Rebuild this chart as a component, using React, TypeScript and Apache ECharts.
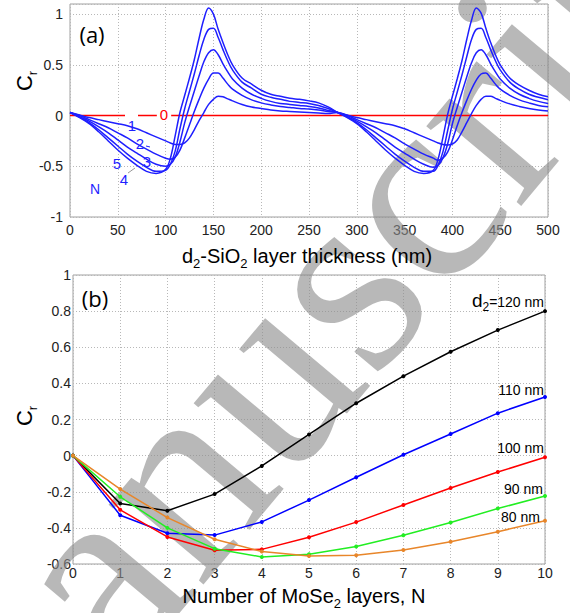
import React, { useEffect, useRef } from 'react';
import * as echarts from 'echarts';

// ---------- Panel (a): contrast Cr vs SiO2 thickness ----------
const thicknessNm = [0,10,20,30,40,50,60,70,80,90,100,105,110,115,120,125,130,135,140,145,150,155,160,165,170,180,190,200,210,220,230,240,250,260,270,280,290,300,310,320,330,340,350,360,370,380,385,390,395,400,405,410,415,420,425,430,435,440,445,450,460,470,480,490,500];

const crN1 = [0.03,0.005,-0.02,-0.04,-0.06,-0.08,-0.10,-0.13,-0.17,-0.21,-0.25,-0.27,-0.285,-0.285,-0.27,-0.22,-0.14,-0.05,0.03,0.11,0.16,0.19,0.185,0.165,0.145,0.11,0.085,0.07,0.055,0.045,0.04,0.035,0.03,0.025,0.02,
  0.03,0.005,-0.02,-0.04,-0.06,-0.08,-0.10,-0.13,-0.17,-0.21,-0.25,-0.27,-0.285,-0.29,-0.28,-0.24,-0.16,-0.07,0.02,0.10,0.16,0.19,0.19,0.17,0.15,0.115,0.09,0.07,0.055,0.044];
const crN2 = [0.03,0.0,-0.04,-0.08,-0.12,-0.17,-0.22,-0.28,-0.33,-0.38,-0.42,-0.43,-0.41,-0.34,-0.22,-0.09,0.04,0.16,0.27,0.36,0.42,0.42,0.37,0.31,0.26,0.20,0.155,0.125,0.105,0.09,0.08,0.07,0.065,0.055,0.04,
  0.03,0.0,-0.04,-0.08,-0.12,-0.17,-0.22,-0.28,-0.33,-0.38,-0.42,-0.44,-0.42,-0.36,-0.24,-0.10,0.03,0.15,0.26,0.35,0.41,0.42,0.37,0.31,0.26,0.20,0.155,0.125,0.10,0.087];
const crN3 = [0.03,-0.01,-0.055,-0.11,-0.17,-0.24,-0.31,-0.37,-0.43,-0.48,-0.50,-0.48,-0.41,-0.26,-0.07,0.09,0.24,0.39,0.53,0.62,0.65,0.60,0.51,0.43,0.36,0.27,0.21,0.17,0.14,0.12,0.11,0.10,0.09,0.075,0.05,
  0.03,-0.01,-0.055,-0.11,-0.17,-0.24,-0.31,-0.37,-0.43,-0.48,-0.51,-0.49,-0.42,-0.28,-0.08,0.08,0.23,0.38,0.52,0.62,0.65,0.60,0.51,0.43,0.36,0.27,0.21,0.17,0.14,0.12];
const crN4 = [0.03,-0.015,-0.07,-0.14,-0.22,-0.30,-0.38,-0.45,-0.51,-0.55,-0.54,-0.48,-0.35,-0.13,0.07,0.24,0.41,0.59,0.75,0.85,0.86,0.77,0.65,0.54,0.45,0.33,0.27,0.21,0.18,0.16,0.14,0.13,0.12,0.10,0.07,
  0.03,-0.015,-0.07,-0.14,-0.22,-0.30,-0.38,-0.45,-0.51,-0.55,-0.55,-0.49,-0.36,-0.15,0.06,0.23,0.40,0.58,0.75,0.85,0.86,0.77,0.65,0.54,0.45,0.33,0.26,0.21,0.18,0.155];
const crN5 = [0.03,-0.02,-0.08,-0.16,-0.25,-0.34,-0.42,-0.49,-0.55,-0.57,-0.53,-0.42,-0.20,0.03,0.20,0.37,0.55,0.76,0.95,1.06,1.0,0.85,0.72,0.60,0.50,0.37,0.31,0.25,0.21,0.19,0.17,0.16,0.145,0.125,0.085,
  0.03,-0.02,-0.08,-0.16,-0.25,-0.34,-0.42,-0.49,-0.55,-0.57,-0.54,-0.43,-0.22,0.01,0.19,0.36,0.54,0.75,0.94,1.06,1.01,0.86,0.72,0.60,0.50,0.37,0.30,0.25,0.21,0.185];
const crN0X = [0, 500];
const crN0Y = [0, 0];

// ---------- Panel (b): Cr vs number of MoSe2 layers ----------
const layers = [0,1,2,3,4,5,6,7,8,9,10];
const d120 = [0,-0.265,-0.305,-0.213,-0.057,0.117,0.29,0.44,0.575,0.695,0.80];
const d110 = [0,-0.33,-0.43,-0.44,-0.367,-0.246,-0.12,0.005,0.12,0.235,0.325];
const d100 = [0,-0.30,-0.45,-0.524,-0.519,-0.452,-0.368,-0.273,-0.179,-0.091,-0.009];
const d90 = [0,-0.228,-0.40,-0.515,-0.561,-0.546,-0.503,-0.441,-0.37,-0.293,-0.224];
const d80 = [0,-0.185,-0.343,-0.463,-0.531,-0.556,-0.552,-0.523,-0.477,-0.421,-0.361];

const SANS = 'Liberation Sans';
const TICK = '#222';
const GRIDLINE = '#b8b8b8';
const BLUE = '#1f1fff';

const pairs = (xs: number[], ys: number[]) => xs.map((x, i) => [x, ys[i]]);

export default function App() {
  const ref = useRef<HTMLDivElement>(null);
  useEffect(() => {
    document.body.style.margin = '0';
    if (!ref.current) return;
    const chart = echarts.init(ref.current, undefined, { renderer: 'svg' });

    const axisCommon = {
      axisLine: { show: false },
      axisTick: { show: false },
      splitLine: { show: true, lineStyle: { color: GRIDLINE, type: [1, 2], width: 1 } },
    };

    const topSeries = [crN1, crN2, crN3, crN4, crN5].map((ys, k) => ({
      type: 'line',
      name: 'N' + (k + 1),
      xAxisIndex: 0,
      yAxisIndex: 0,
      data: pairs(thicknessNm, ys),
      smooth: 0.35,
      showSymbol: false,
      lineStyle: { color: BLUE, width: 1.5 },
      z: 3,
    }));

    const bottomDefs: [number[], string][] = [
      [d120, '#000000'],
      [d110, '#0000ff'],
      [d100, '#ff0000'],
      [d90, '#22ee22'],
      [d80, '#e8862a'],
    ];
    const bottomSeries = bottomDefs.map(([ys, c]) => ({
      type: 'line',
      xAxisIndex: 1,
      yAxisIndex: 1,
      data: pairs(layers, ys),
      symbol: 'circle',
      symbolSize: 4,
      showSymbol: true,
      itemStyle: { color: c },
      lineStyle: { color: c, width: 1.5 },
      z: 3,
    }));

    const norm = (size: number) => ({ fontSize: size, fontFamily: SANS, fill: '#000', verticalAlign: 'top' });
    const sub = (size: number, pad: number) => ({ fontSize: size, fontFamily: SANS, fill: '#000', verticalAlign: 'top', padding: [pad, 0, 0, 0] });

    const label = (text: string, x: number, y: number, color: string, size = 15, extra: any = {}) => ({
      type: 'text', x, y, z: 10, silent: true,
      style: { text, fill: color, fontSize: size, fontFamily: SANS, align: 'center', verticalAlign: 'middle', ...extra },
    });

    const graphic: any[] = [
      {
        type: 'text', x: -102, y: 806, rotation: (50 * Math.PI) / 180, z: 1, silent: true,
        style: { text: 'Manuscript', fontSize: 270, fontFamily: 'Liberation Serif', fill: 'rgba(140,140,140,0.62)', align: 'left', verticalAlign: 'middle' },
      },
      label('(a)', 92, 34, '#000', 22, { fontFamily: 'Open Sans' }),
      label('(b)', 95, 298, '#000', 22, { fontFamily: 'Open Sans' }),
      { type: 'rect', z: 9, silent: true, shape: { x: 125, y: 113, width: 13, height: 5 }, style: { fill: '#fff' } },
      label('0', 164, 114, '#ff0000', 15, { backgroundColor: '#fff', padding: [0, 3, 0, 3] }),
      label('1', 132, 125, BLUE),
      label('2', 140, 143, BLUE),
      label('3', 147, 161, BLUE),
      label('5', 117, 163, BLUE),
      label('4', 124, 179, BLUE),
      label('N', 95, 189, BLUE, 14),
      { type: 'line', z: 10, silent: true, shape: { x1: 146, y1: 146, x2: 150, y2: 147 }, style: { stroke: BLUE, lineWidth: 1 } },
      { type: 'line', z: 10, silent: true, shape: { x1: 128, y1: 173, x2: 135, y2: 168 }, style: { stroke: '#999', lineWidth: 1 } },
      // axis titles
      {
        type: 'text', x: 307, y: 258, z: 10, silent: true,
        style: {
          text: '{n|d}{s|2}{n|-SiO}{s|2}{n| layer thickness (nm)}',
          align: 'center', verticalAlign: 'middle', fill: '#000',
          rich: { n: norm(20), s: sub(13, 11) },
        },
      },
      {
        type: 'text', x: 304, y: 598, z: 10, silent: true,
        style: {
          text: '{n|Number of MoSe}{s|2}{n| layers, N}',
          align: 'center', verticalAlign: 'middle', fill: '#000',
          rich: { n: norm(20), s: sub(13, 11) },
        },
      },
      {
        type: 'text', x: 26, y: 81, rotation: Math.PI / 2, z: 10, silent: true,
        style: { text: '{n|C}{s|r}', align: 'center', verticalAlign: 'middle', fill: '#000', rich: { n: norm(22), s: sub(13, 12) } },
      },
      {
        type: 'text', x: 26, y: 416, rotation: Math.PI / 2, z: 10, silent: true,
        style: { text: '{n|C}{s|r}', align: 'center', verticalAlign: 'middle', fill: '#000', rich: { n: norm(22), s: sub(13, 12) } },
      },
      // panel (b) curve labels
      {
        type: 'text', x: 544, y: 302, z: 10, silent: true,
        style: {
          text: '{n|d}{s|2}{m|=120 nm}', align: 'right', verticalAlign: 'middle', fill: '#000',
          rich: { n: norm(19), s: sub(12, 10), m: { fontSize: 14, fontFamily: SANS, fill: '#000', verticalAlign: 'top', padding: [4, 0, 0, 0] } },
        },
      },
      { type: 'text', x: 544, y: 390, z: 10, silent: true, style: { text: '110 nm', align: 'right', verticalAlign: 'middle', fill: '#000', fontSize: 14, fontFamily: SANS } },
      { type: 'text', x: 544, y: 448, z: 10, silent: true, style: { text: '100 nm', align: 'right', verticalAlign: 'middle', fill: '#000', fontSize: 14, fontFamily: SANS } },
      { type: 'text', x: 543, y: 489, z: 10, silent: true, style: { text: '90 nm', align: 'right', verticalAlign: 'middle', fill: '#000', fontSize: 14, fontFamily: SANS } },
      { type: 'text', x: 540, y: 517, z: 10, silent: true, style: { text: '80 nm', align: 'right', verticalAlign: 'middle', fill: '#000', fontSize: 14, fontFamily: SANS } },
    ];

    chart.setOption({
      animation: false,
      backgroundColor: '#fff',
      grid: [
        { left: 70, top: 4, width: 478, height: 213, show: true, borderColor: '#a0a0a0', borderWidth: 1, backgroundColor: 'transparent' },
        { left: 73, top: 275, width: 472, height: 289, show: true, borderColor: '#a0a0a0', borderWidth: 1, backgroundColor: 'transparent' },
      ],
      xAxis: [
        {
          type: 'value', gridIndex: 0, min: 0, max: 500, interval: 50, ...axisCommon,
          axisLabel: { fontSize: 14, fontFamily: SANS, color: TICK, margin: 6 },
        },
        {
          type: 'value', gridIndex: 1, min: 0, max: 10, interval: 1, ...axisCommon,
          axisLabel: { fontSize: 14, fontFamily: SANS, color: TICK, margin: 2 },
        },
      ],
      yAxis: [
        {
          type: 'value', gridIndex: 0, min: -1, max: 1.1, interval: 0.5, ...axisCommon,
          axisLabel: { fontSize: 14, fontFamily: SANS, color: TICK, margin: 7, showMaxLabel: false },
        },
        {
          type: 'value', gridIndex: 1, min: -0.6, max: 1, interval: 0.2, ...axisCommon,
          axisLabel: { fontSize: 14, fontFamily: SANS, color: TICK, margin: 2 },
        },
      ],
      series: [
        {
          type: 'line', xAxisIndex: 0, yAxisIndex: 0, data: pairs(crN0X, crN0Y),
          showSymbol: false, lineStyle: { color: '#ff0000', width: 1.5 }, z: 3,
        },
        ...topSeries,
        ...bottomSeries,
      ],
      graphic,
    });

    return () => chart.dispose();
  }, []);

  return <div ref={ref} style={{ width: 570, height: 613 }} />;
}
